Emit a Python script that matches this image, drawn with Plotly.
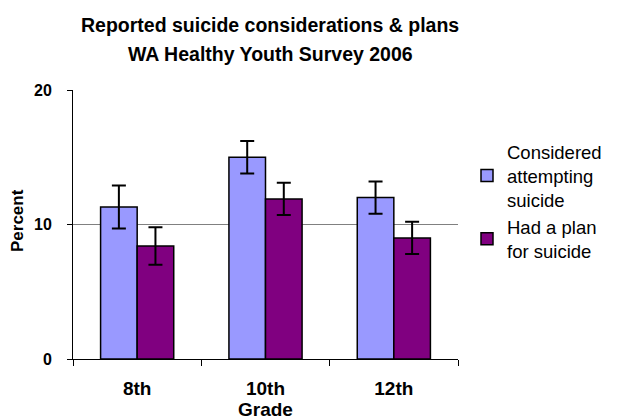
import plotly.graph_objects as go

grades = ["8th", "10th", "12th"]
considered = [11.3, 15.0, 12.0]
considered_err = [1.6, 1.2, 1.2]
plan = [8.4, 11.9, 9.0]
plan_err = [1.4, 1.2, 1.2]
y_ticks = [0, 10, 20]

FONT = "Liberation Sans, Arial, sans-serif"
L, R, T, B = 73, 164, 90, 60
W, H = 622, 419
PH = H - T - B
PW = W - L - R


def py(px):
    """pixel y from top -> paper y"""
    return (H - B - px) / PH


def px_(x):
    """pixel x from left -> paper x"""
    return (x - L) / PW


fig = go.Figure()
fig.add_trace(go.Bar(
    x=grades, y=considered, name="Considered<br>attempting<br>suicide",
    marker=dict(color="#9999FF", line=dict(color="black", width=1.5)),
    error_y=dict(type="data", array=considered_err, color="black", thickness=2, width=7),
))
fig.add_trace(go.Bar(
    x=grades, y=plan, name="Had a plan<br>for suicide",
    marker=dict(color="#800080", line=dict(color="black", width=1.5)),
    error_y=dict(type="data", array=plan_err, color="black", thickness=2, width=7),
))

fig.update_layout(
    width=W, height=H,
    margin=dict(l=L, r=R, t=T, b=B, autoexpand=False),
    paper_bgcolor="white", plot_bgcolor="white",
    barmode="group", bargap=0.43, bargroupgap=0,
    font=dict(family=FONT, color="black"),
    showlegend=True,
    legend=dict(
        x=px_(467), y=py(133), xanchor="left", yanchor="top",
        font=dict(size=18.5, family=FONT),
        bgcolor="rgba(0,0,0,0)",
    ),
    xaxis=dict(
        tickson="boundaries", ticks="outside", ticklen=6, tickcolor="black",
        showline=True, linecolor="black", linewidth=1,
        tickfont=dict(size=19, family=FONT, weight="bold"),
        ticklabelstandoff=12,
        automargin=False,
    ),
    yaxis=dict(
        range=[0, 20], tickvals=y_ticks, ticks="outside", ticklen=5, tickcolor="black",
        showline=True, linecolor="black", linewidth=1,
        showgrid=True, gridcolor="#808080", gridwidth=1,
        zeroline=False,
        tickfont=dict(size=16, family=FONT, weight="bold"),
        ticklabelstandoff=12,
        automargin=False,
    ),
    annotations=[
        dict(text="<b>Reported suicide considerations & plans</b>", xref="paper", yref="paper",
             x=px_(270), y=py(25), xanchor="center", yanchor="middle", showarrow=False,
             font=dict(size=19.5, family=FONT)),
        dict(text="<b>WA Healthy Youth Survey 2006</b>", xref="paper", yref="paper",
             x=px_(270), y=py(54), xanchor="center", yanchor="middle", showarrow=False,
             font=dict(size=19.5, family=FONT)),
        dict(text="<b>Grade</b>", xref="paper", yref="paper",
             x=0.5, y=py(409), xanchor="center", yanchor="middle", showarrow=False,
             font=dict(size=19, family=FONT)),
        dict(text="<b>Percent</b>", xref="paper", yref="paper", textangle=-90,
             x=px_(17), y=py(221), xanchor="center", yanchor="middle",
             showarrow=False, font=dict(size=17, family=FONT)),
    ],
)

fig.write_html(
    "out.html",
    config={"displayModeBar": False},
    post_script="document.body.style.margin='0';document.body.style.overflow='hidden';",
)
